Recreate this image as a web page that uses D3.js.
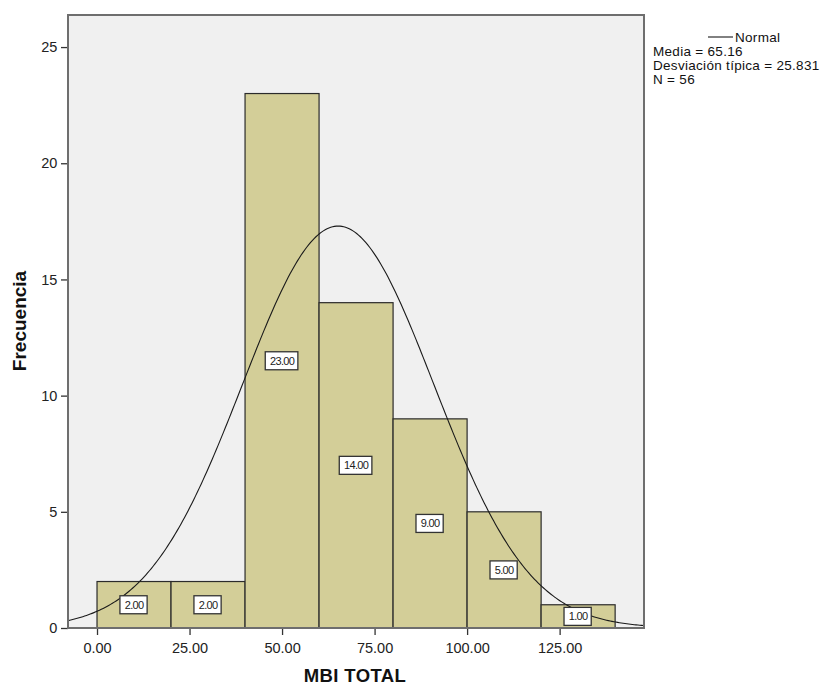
<!DOCTYPE html>
<html>
<head>
<meta charset="utf-8">
<script src="https://cdn.jsdelivr.net/npm/d3@7"></script>
<style>
  html, body { margin: 0; padding: 0; background: #ffffff; }
  svg { display: block; font-family: "Liberation Sans", Arial, sans-serif; }
</style>
</head>
<body>
<svg id="chart" width="829" height="687"></svg>
<script>
// Histogram of MBI TOTAL with fitted normal curve
const binStarts = [0, 20, 40, 60, 80, 100, 120];
const binWidth = 20;
const counts = [2, 2, 23, 14, 9, 5, 1];
const xTicks = [0, 25, 50, 75, 100, 125];
const yTicks = [0, 5, 10, 15, 20, 25];
const stats = { mean: 65.16, sd: 25.831, n: 56 };
const legendLines = ["Media = 65.16", "Desviación típica = 25.831", "N = 56"];

const svg = d3.select("#chart");
const plot = { left: 68, right: 644, top: 15, bottom: 628 };

const x = d3.scaleLinear().domain([-7.84, 147.8]).range([plot.left, plot.right]);
const y = d3.scaleLinear().domain([0, 26.38]).range([plot.bottom, plot.top]);

// plot background
svg.append("rect")
  .attr("x", plot.left).attr("y", plot.top)
  .attr("width", plot.right - plot.left).attr("height", plot.bottom - plot.top)
  .attr("fill", "#f0f0f0");

// bars
svg.append("g").selectAll("rect")
  .data(binStarts.map((s, i) => ({ s, c: counts[i] })))
  .join("rect")
  .attr("x", d => x(d.s))
  .attr("y", d => y(d.c))
  .attr("width", d => x(d.s + binWidth) - x(d.s))
  .attr("height", d => y(0) - y(d.c))
  .attr("fill", "#d3ce98")
  .attr("stroke", "#2b2b2b")
  .attr("stroke-width", 1.2);

// normal curve scaled to counts
const scale = stats.n * binWidth / (stats.sd * Math.sqrt(2 * Math.PI));
const curvePts = d3.range(x.domain()[0], x.domain()[1] + 0.01, 0.5).map(v => {
  const z = (v - stats.mean) / stats.sd;
  return [v, scale * Math.exp(-0.5 * z * z)];
});
svg.append("path")
  .datum(curvePts)
  .attr("fill", "none")
  .attr("stroke", "#1a1a1a")
  .attr("stroke-width", 1.1)
  .attr("d", d3.line().x(d => x(d[0])).y(d => y(d[1])));

// value labels at bar centres
const labels = svg.append("g").selectAll("g")
  .data(binStarts.map((s, i) => ({ s, c: counts[i] })))
  .join("g")
  .attr("transform", d => `translate(${x(d.s + binWidth / 2)},${(y(d.c) + y(0)) / 2})`);
labels.append("rect")
  .attr("fill", "#ffffff")
  .attr("stroke", "#333333")
  .attr("stroke-width", 1.3);
labels.append("text")
  .attr("text-anchor", "middle")
  .attr("dy", "0.36em")
  .attr("font-size", 11)
  .attr("letter-spacing", -0.7)
  .attr("fill", "#222")
  .text(d => d.c.toFixed(2));
labels.each(function () {
  const g = d3.select(this);
  const bb = g.select("text").node().getBBox();
  const w = bb.width + 8, h = 18;
  g.select("rect").attr("x", -w / 2 - 0.5).attr("y", -h / 2).attr("width", w).attr("height", h);
});

// axes
const xAxis = svg.append("g")
  .attr("transform", `translate(0,${plot.bottom})`)
  .call(d3.axisBottom(x).tickValues(xTicks).tickFormat(d => d.toFixed(2)).tickSize(7).tickSizeOuter(0));
const yAxis = svg.append("g")
  .attr("transform", `translate(${plot.left},0)`)
  .call(d3.axisLeft(y).tickValues(yTicks).tickFormat(d3.format("d")).tickSize(7).tickSizeOuter(0));
[xAxis, yAxis].forEach(g => {
  g.select(".domain").remove();
  g.selectAll(".tick line").attr("stroke", "#333").attr("stroke-width", 1.3);
  g.selectAll(".tick text").attr("font-size", 14.5).attr("fill", "#222")
    .attr("font-family", "Liberation Sans, Arial, sans-serif");
});
xAxis.selectAll(".tick text").attr("dy", "1.0em");
yAxis.selectAll(".tick text").attr("dx", "-0.05em");

// frame
svg.append("rect")
  .attr("x", plot.left).attr("y", plot.top)
  .attr("width", plot.right - plot.left).attr("height", plot.bottom - plot.top)
  .attr("fill", "none")
  .attr("stroke", "#6e6e6e")
  .attr("stroke-width", 2);

// axis titles
svg.append("text")
  .attr("x", 355).attr("y", 682)
  .attr("text-anchor", "middle")
  .attr("font-size", 18.5).attr("font-weight", "bold").attr("fill", "#111")
  .attr("letter-spacing", 0.4)
  .text("MBI TOTAL");
svg.append("text")
  .attr("transform", "translate(26,321) rotate(-90)")
  .attr("text-anchor", "middle")
  .attr("font-size", 19).attr("font-weight", "bold").attr("fill", "#111")
  .text("Frecuencia");

// legend
const leg = svg.append("g").attr("transform", "translate(653,0)");
leg.append("line")
  .attr("x1", 55).attr("x2", 80).attr("y1", 37).attr("y2", 37)
  .attr("stroke", "#1a1a1a").attr("stroke-width", 1.1);
leg.append("text").attr("x", 82).attr("y", 42)
  .attr("font-size", 13.5).attr("letter-spacing", 0.3).attr("fill", "#111").text("Normal");
leg.selectAll("text.stat")
  .data(legendLines)
  .join("text")
  .attr("class", "stat")
  .attr("x", 0).attr("y", (d, i) => 56 + i * 14)
  .attr("font-size", 13.5).attr("letter-spacing", 0.3).attr("fill", "#111")
  .text(d => d);
</script>
</body>
</html>
